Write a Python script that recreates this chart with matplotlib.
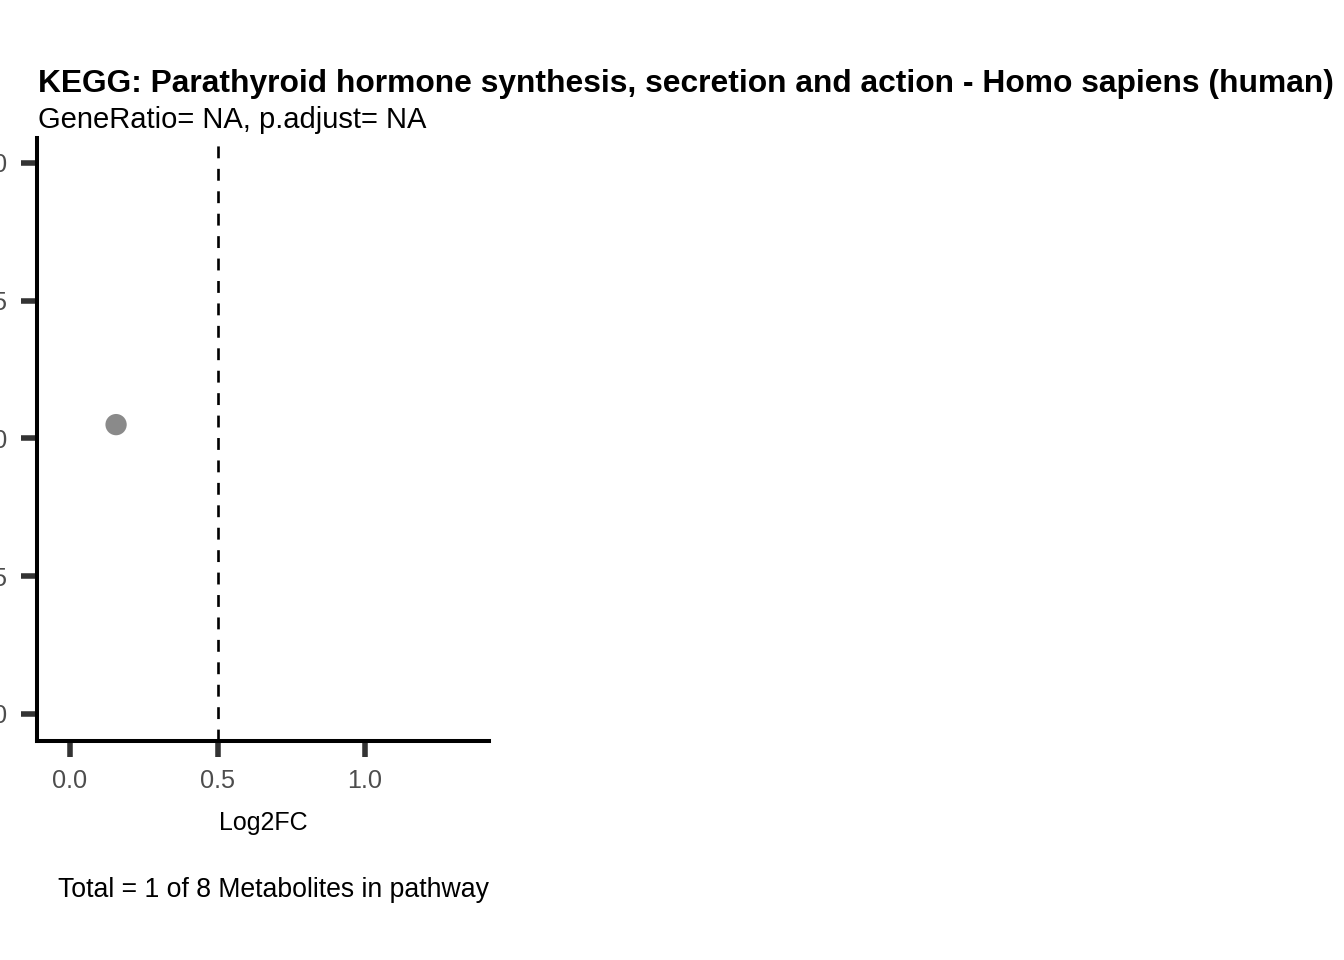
import matplotlib
matplotlib.use("Agg")
import matplotlib.pyplot as plt

plt.rcParams['font.family'] = ['Liberation Sans', 'DejaVu Sans']

# Data
log2fc = [0.156]
yvals = [1.0025]
x_ticks = [0.0, 0.5, 1.0]
x_ticklabels = ["0.0", "0.5", "1.0"]
y_ticks = [0.950, 0.975, 1.000, 1.025, 1.050]
y_ticklabels = ["0.950", "0.975", "1.000", "1.025", "1.050"]
threshold = 0.5
title = "KEGG: Parathyroid hormone synthesis, secretion and action - Homo sapiens (human)"
subtitle = "GeneRatio= NA, p.adjust= NA"
xlabel = "Log2FC"
caption = "Total = 1 of 8 Metabolites in pathway"

W, H = 1344, 960
fig = plt.figure(figsize=(W / 100, H / 100), dpi=100)
ax = fig.add_axes([37 / W, 1 - 741 / H, (489 - 37) / W, (741 - 138) / H])

ax.scatter(log2fc, yvals, s=235, color='#8A8A8A', edgecolors='none', zorder=3)
ax.axvline(threshold, color='black', linewidth=1.9, linestyle=(0, (4.5, 4)), zorder=2)

ax.set_xlim(-0.112, 1.42)
ax.set_ylim(0.9451, 1.0545)
ax.set_xticks(x_ticks)
ax.set_xticklabels(x_ticklabels)
ax.set_yticks(y_ticks)
ax.set_yticklabels(y_ticklabels)

for side in ['top', 'right']:
    ax.spines[side].set_visible(False)
for side in ['left', 'bottom']:
    ax.spines[side].set_linewidth(2.9)
    ax.spines[side].set_color('black')

ax.tick_params(axis='both', which='major', length=11.5, width=4, color='#333333',
               labelsize=18.2, labelcolor='#4D4D4D')
ax.tick_params(axis='x', pad=9)
ax.tick_params(axis='y', pad=10)

ax.set_xlabel(xlabel, fontsize=18, color='black')
ax.xaxis.set_label_coords(0.5, (741 - 830) / (741 - 138))
ax.xaxis.label.set_va('baseline')

fig.text(38 / W, 1 - 92 / H, title, fontsize=22.9, fontweight='bold', ha='left', va='baseline')
fig.text(38 / W, 1 - 128 / H, subtitle, fontsize=21, ha='left', va='baseline')
fig.text(489 / W, 1 - 897 / H, caption, fontsize=19.2, ha='right', va='baseline')

fig.savefig('out.png', dpi=100)
